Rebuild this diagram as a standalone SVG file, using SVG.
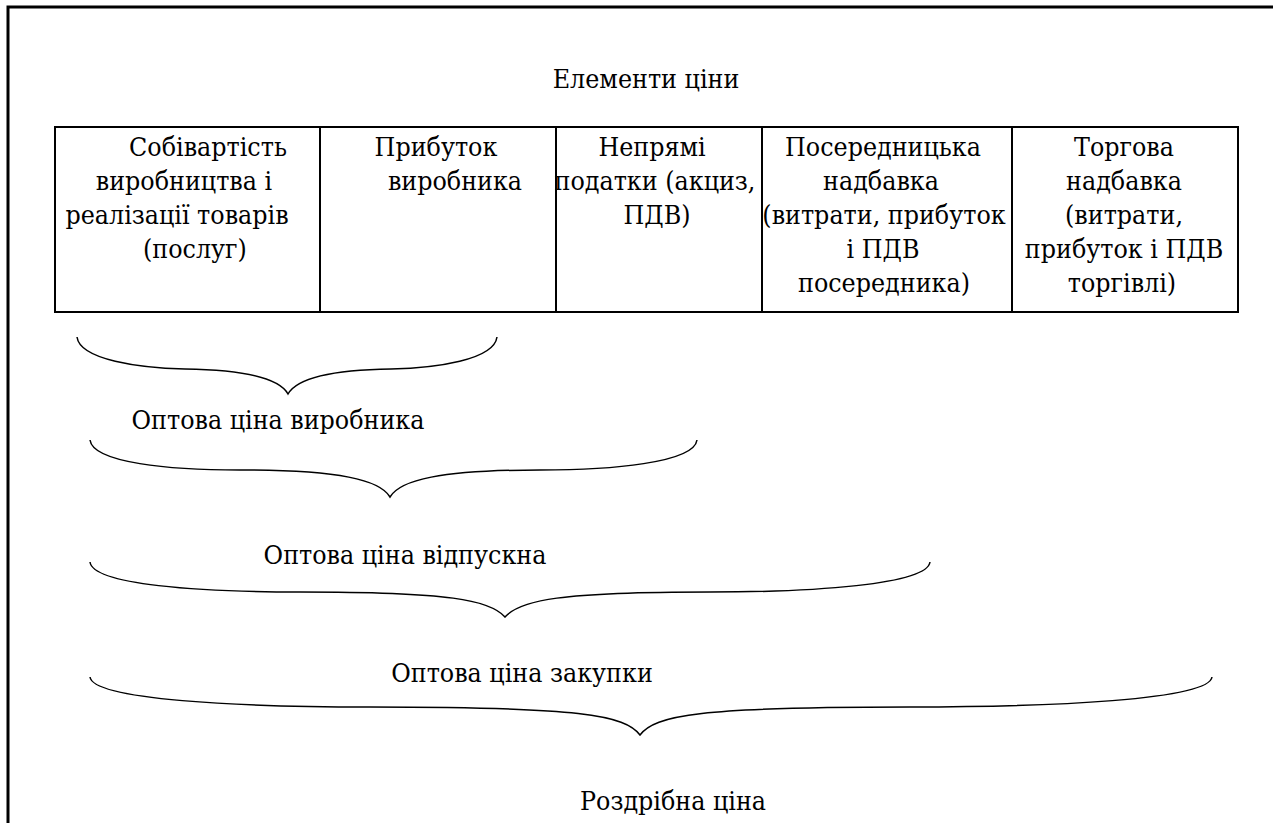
<svg xmlns="http://www.w3.org/2000/svg" width="1273" height="823" viewBox="0 0 1273 823">
<style>
text{font-family:"DejaVu Serif Condensed","DejaVu Serif","Liberation Serif",serif;font-stretch:semi-condensed;font-size:26.5px;fill:#000;text-anchor:middle}
.frame{stroke:#000;stroke-width:3;fill:none}
.cell{stroke:#000;stroke-width:2;fill:none}
.brace{stroke:#000;stroke-width:1.5;fill:none}
</style>
<rect width="1273" height="823" fill="#fff"/>
<g id="frame">
<path class="frame" d="M8,823 V7 H1273"/>
</g>
<g id="title"><text x="646" y="88">Елементи ціни</text></g>
<g id="table">
<rect class="cell" x="55" y="127" width="1183" height="185"/>
<line class="cell" x1="320" y1="127" x2="320" y2="312"/>
<line class="cell" x1="556" y1="127" x2="556" y2="312"/>
<line class="cell" x1="762" y1="127" x2="762" y2="312"/>
<line class="cell" x1="1012" y1="127" x2="1012" y2="312"/>
</g>
<g id="cell1">
<text x="208" y="156">Собівартість</text>
<text x="184" y="190">виробництва і</text>
<text x="177" y="224">реалізації товарів</text>
<text x="195" y="258">(послуг)</text>
</g>
<g id="cell2">
<text x="436" y="156">Прибуток</text>
<text x="455" y="190">виробника</text>
</g>
<g id="cell3">
<text x="652" y="156">Непрямі</text>
<text x="655" y="190">податки (акциз,</text>
<text x="657" y="224">ПДВ)</text>
</g>
<g id="cell4">
<text x="883" y="156">Посередницька</text>
<text x="881" y="190">надбавка</text>
<text x="884" y="224">(витрати, прибуток</text>
<text x="883" y="258">і ПДВ</text>
<text x="884" y="292">посередника)</text>
</g>
<g id="cell5">
<text x="1124" y="156">Торгова</text>
<text x="1124" y="190">надбавка</text>
<text x="1124" y="224">(витрати,</text>
<text x="1124" y="258">прибуток і ПДВ</text>
<text x="1122" y="292">торгівлі)</text>
</g>
<g id="connectors">
<path class="brace" d="M77,337 C80,360 140,368 185,369 C250,370 280,380 288,394 C296,380 326,370 391,369 C436,368 494,360 497,337"/>
<path class="brace" d="M90,440 C93,463 170,470 240,470 C340,470 380,480 390,497 C400,480 440,470 540,470 C610,470 694,463 697,440"/>
<path class="brace" d="M90,562 C93,585 200,592 300,592 C450,592 490,600 505,617 C520,600 560,592 710,592 C810,592 927,585 930,562"/>
<path class="brace" d="M90,677 C93,700 240,707 370,707 C580,707 625,715 640,735 C655,715 700,707 910,707 C1050,707 1209,700 1212,677"/>
</g>
<g id="label1"><text x="278" y="429">Оптова ціна виробника</text></g>
<g id="label2"><text x="405" y="564">Оптова ціна відпускна</text></g>
<g id="label3"><text x="522" y="682">Оптова ціна закупки</text></g>
<g id="label4"><text x="673" y="810">Роздрібна ціна</text></g>
</svg>
